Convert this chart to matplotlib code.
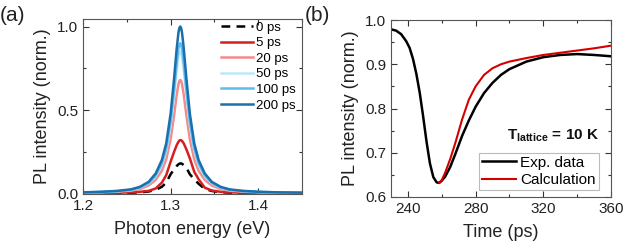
import matplotlib
matplotlib.use("Agg")
import matplotlib.pyplot as plt
from matplotlib.ticker import MultipleLocator

plt.rcParams['font.family'] = ['Liberation Sans', 'DejaVu Sans']
plt.rcParams['mathtext.fontset'] = 'custom'
plt.rcParams['mathtext.rm'] = 'Liberation Sans'
plt.rcParams['mathtext.bf'] = 'Liberation Sans:bold'

# ---------------- Panel (a) data ----------------
energy = [1.200, 1.220, 1.240, 1.255, 1.265, 1.275, 1.283, 1.290, 1.295, 1.300,
          1.304, 1.307, 1.309, 1.310, 1.311, 1.312, 1.313, 1.315, 1.318, 1.322,
          1.327, 1.332, 1.339, 1.347, 1.357, 1.367, 1.382, 1.402, 1.422, 1.450]
pl_0ps = [0.001, 0.002, 0.003, 0.005, 0.007, 0.012, 0.022, 0.040, 0.065, 0.115,
          0.145, 0.165, 0.175, 0.178, 0.180, 0.180, 0.178, 0.170, 0.155, 0.115,
          0.085, 0.058, 0.028, 0.015, 0.008, 0.005, 0.003, 0.002, 0.001, 0.001]
pl_5ps = [0.002, 0.003, 0.005, 0.007, 0.010, 0.016, 0.030, 0.065, 0.110, 0.190,
          0.250, 0.290, 0.310, 0.317, 0.320, 0.319, 0.315, 0.300, 0.265, 0.210,
          0.130, 0.085, 0.035, 0.018, 0.010, 0.007, 0.005, 0.003, 0.002, 0.002]
pl_20ps = [0.005, 0.007, 0.011, 0.017, 0.027, 0.048, 0.082, 0.136, 0.204, 0.324,
           0.469, 0.592, 0.656, 0.674, 0.680, 0.674, 0.656, 0.592, 0.469, 0.324,
           0.204, 0.136, 0.082, 0.048, 0.027, 0.017, 0.011, 0.007, 0.005, 0.003]
pl_50ps = [0.006, 0.009, 0.014, 0.021, 0.034, 0.060, 0.102, 0.170, 0.255, 0.405,
           0.587, 0.740, 0.820, 0.842, 0.850, 0.842, 0.820, 0.740, 0.587, 0.405,
           0.255, 0.170, 0.102, 0.060, 0.034, 0.021, 0.014, 0.009, 0.006, 0.004]
pl_100ps = [0.006, 0.009, 0.014, 0.022, 0.036, 0.063, 0.108, 0.180, 0.270, 0.429,
            0.621, 0.783, 0.869, 0.892, 0.900, 0.892, 0.869, 0.783, 0.621, 0.429,
            0.270, 0.180, 0.108, 0.063, 0.036, 0.022, 0.014, 0.009, 0.006, 0.005]
pl_200ps = [0.007, 0.010, 0.016, 0.025, 0.040, 0.070, 0.120, 0.200, 0.300, 0.477,
            0.690, 0.870, 0.965, 0.991, 1.000, 0.991, 0.965, 0.870, 0.690, 0.477,
            0.300, 0.200, 0.120, 0.070, 0.040, 0.025, 0.016, 0.010, 0.007, 0.005]
labels_a = ['0 ps', '5 ps', '20 ps', '50 ps', '100 ps', '200 ps']

# ---------------- Panel (b) data ----------------
t_exp = [230, 233, 236, 239, 241, 243, 245, 247, 249, 251, 253, 255, 257, 258.5,
         260, 262, 265, 268, 272, 276, 280, 285, 290, 295, 300, 310, 320, 330,
         340, 350, 360]
pl_exp = [0.979, 0.976, 0.968, 0.952, 0.937, 0.912, 0.878, 0.835, 0.782, 0.725,
          0.676, 0.645, 0.633, 0.632, 0.637, 0.646, 0.668, 0.697, 0.738, 0.773,
          0.804, 0.835, 0.858, 0.876, 0.889, 0.906, 0.916, 0.921, 0.923, 0.921,
          0.918]
t_calc = [258.5, 260, 262, 265, 268, 272, 276, 280, 285, 290, 295, 300, 310, 320,
          330, 340, 350, 360]
pl_calc = [0.632, 0.638, 0.655, 0.686, 0.722, 0.775, 0.820, 0.850, 0.876, 0.891,
           0.900, 0.906, 0.914, 0.921, 0.926, 0.931, 0.936, 0.942]

fig = plt.figure(figsize=(6.44, 2.46), dpi=100)

def style_axes(ax):
    ax.tick_params(which='both', direction='in', top=True, right=True,
                   labelsize=11, width=0.8, colors='#333333', labelcolor='#222222')
    ax.tick_params(which='major', length=4)
    ax.tick_params(which='minor', length=2.5)
    for s in ax.spines.values():
        s.set_linewidth(0.8)
        s.set_color('#555555')

# Panel (a)
ax1 = fig.add_axes([83/644, 1-194/246, 219/644, 175/246])
series = [pl_0ps, pl_5ps, pl_20ps, pl_50ps, pl_100ps, pl_200ps]
colors = ['black', '#d42020', '#f58a8a', '#bfe6fa', '#5bbcf0', '#1a6fad']
for vals, c, lab in zip(series, colors, labels_a):
    ls = (0, (3.5, 2.5)) if lab == '0 ps' else '-'
    ax1.plot(energy, vals, color=c, lw=1.8, ls=ls, label=lab)
ax1.set_xlim(1.2, 1.45)
ax1.set_ylim(-0.003, 1.045)
ax1.xaxis.set_minor_locator(MultipleLocator(0.05))
ax1.yaxis.set_minor_locator(MultipleLocator(0.25))
ax1.set_xticks([1.2, 1.3, 1.4])
ax1.set_xticklabels(['1.2', '1.3', '1.4'])
ax1.set_yticks([0.0, 0.5, 1.0])
ax1.set_yticklabels(['0.0', '0.5', '1.0'])
style_axes(ax1)
ax1.set_xlabel('Photon energy (eV)', fontsize=13, labelpad=6, color='#222222')
ax1.set_ylabel('PL intensity (norm.)', fontsize=13, labelpad=4, color='#222222')
leg1 = ax1.legend(loc='upper left', bbox_to_anchor=(0.63, 0.985), frameon=False,
                  fontsize=9.5, handlelength=2.4, handletextpad=0.25,
                  labelspacing=0.25, borderpad=0, borderaxespad=0)
fig.text(0.0, 0.935, '(a)', fontsize=15, ha='left', va='center', color='#222222')

# Panel (b)
ax2 = fig.add_axes([391/644, 1-197/246, 220/644, 177/246])
ax2.plot(t_exp, pl_exp, color='black', lw=1.8, label='Exp. data')
ax2.plot(t_calc, pl_calc, color='#d40000', lw=1.5, label='Calculation')
ax2.set_xlim(230, 360)
ax2.set_ylim(0.6, 1.0)
ax2.xaxis.set_minor_locator(MultipleLocator(20))
ax2.set_xticks([240, 280, 320, 360])
ax2.yaxis.set_minor_locator(MultipleLocator(0.05))
ax2.set_yticks([0.6, 0.7, 0.8, 0.9, 1.0])
ax2.set_yticklabels(['0.6', '0.7', '0.8', '0.9', '1.0'])
style_axes(ax2)
ax2.set_xlabel('Time (ps)', fontsize=13, labelpad=6, color='#222222')
ax2.set_ylabel('PL intensity (norm.)', fontsize=13, labelpad=4, color='#222222')
leg2 = ax2.legend(loc='lower right', bbox_to_anchor=(0.945, 0.04), frameon=True,
                  fancybox=False, fontsize=11, handlelength=2.2, handletextpad=0.3,
                  labelspacing=0.2, borderpad=0.2, borderaxespad=0)
leg2.get_frame().set_edgecolor('#aaaaaa')
leg2.get_frame().set_linewidth(0.8)
ax2.text(0.945, 0.345, r'$\mathbf{T_{lattice}}$ = 10 K', transform=ax2.transAxes,
         ha='right', va='center', fontsize=11, fontweight='bold', color='#111111')
fig.text(305/644, 0.935, '(b)', fontsize=15, ha='left', va='center', color='#222222')

fig.savefig('out.png', dpi=100)
